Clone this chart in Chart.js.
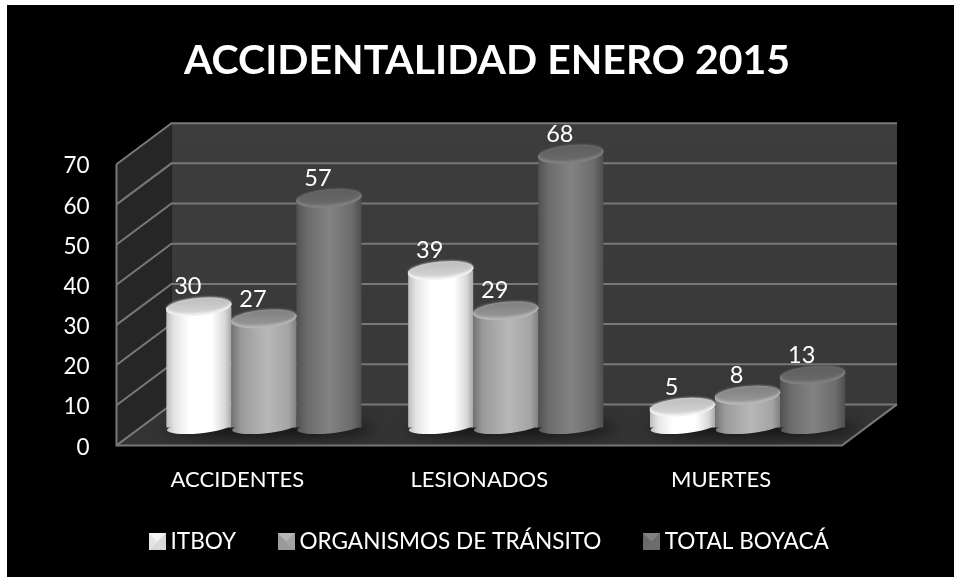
<!DOCTYPE html>
<html><head><meta charset="utf-8">
<style>html,body{margin:0;padding:0;background:#fff}canvas{display:block}#w{width:954px;height:577px;position:relative}</style>
<script src="https://cdn.jsdelivr.net/npm/chart.js@4"></script>
</head><body><div id="w"><canvas id="c" width="954" height="577"></canvas></div>
<script>
const titleText = 'ACCIDENTALIDAD ENERO 2015';
const categories = ['ACCIDENTES', 'LESIONADOS', 'MUERTES'];
const seriesNames = ['ITBOY', 'ORGANISMOS DE TRÁNSITO', 'TOTAL BOYACÁ'];
const itboy = [30, 39, 5];
const organismos = [27, 29, 8];
const totalBoyaca = [57, 68, 13];

const FONT = 'Lato, Carlito, sans-serif';
const DEPTH = {x: 55, y: -41};
const BAR = {x: 26.5, y: -18};
const RY = 9, RY_BASE = 6, TILT = -0.09;
const palettes = [
  {stops: [[0,'#bdbdbd'],[.12,'#e4e4e4'],[.35,'#ffffff'],[.7,'#ffffff'],[.9,'#d8d8d8'],[1,'#a8a8a8']], capTop: '#bdbdbd', capBot: '#d8d8d8', rim: '#f4f4f4', base: '#ffffff'},
  {stops: [[0,'#737373'],[.15,'#9a9a9a'],[.55,'#b8b8b8'],[.88,'#a4a4a4'],[1,'#808080']], capTop: '#808080', capBot: '#9a9a9a', rim: '#b8b8b8', base: '#a6a6a6'},
  {stops: [[0,'#515151'],[.15,'#6a6a6a'],[.5,'#838383'],[.85,'#6c6c6c'],[1,'#4e4e4e']], capTop: '#5e5e5e', capBot: '#6c6c6c', rim: '#828282', base: '#6e6e6e'}
];

function legendIcon(p) {
  const s = 17, c = document.createElement('canvas');
  c.width = c.height = s;
  const g = c.getContext('2d');
  g.fillStyle = p.base; g.fillRect(0,0,s,s);
  const tri = (pts, col) => { g.fillStyle = col; g.beginPath(); pts.forEach((q,i)=> i?g.lineTo(q[0],q[1]):g.moveTo(q[0],q[1])); g.closePath(); g.fill(); };
  tri([[0,0],[s,0],[s/2,s/2]], p.rim);
  tri([[0,s],[s,s],[s/2,s/2]], p.capBot);
  tri([[0,0],[0,s],[s/2,s/2]], p.stops[1][1]);
  tri([[s,0],[s,s],[s/2,s/2]], p.stops[p.stops.length-2][1]);
  return c;
}
const icons = palettes.map(legendIcon);

function barGradient(ctx, x0, x1, p) {
  const g = ctx.createLinearGradient(x0, 0, x1, 0);
  p.stops.forEach(s => g.addColorStop(s[0], s[1]));
  return g;
}

const scene = {
  id: 'scene',
  beforeDraw(chart) {
    const c = chart.ctx;
    c.save();
    c.fillStyle = '#000';
    c.fillRect(7, 5, 947, 572);
    c.restore();
  },
  afterLayout(chart) {
    chart.titleBlock.left = 20; chart.titleBlock.right = 954;
    chart.legend.left = 30; chart.legend.right = 954;
    chart.legend.top -= 14; chart.legend.bottom -= 14;
  },
  beforeDatasetsDraw(chart) {
    const c = chart.ctx, {left, right} = chart.chartArea, y = chart.scales.y, x = chart.scales.x;
    const y0 = y.getPixelForValue(0), yT = y.getPixelForValue(70);
    const d = DEPTH;
    c.save();
    const poly = (pts, fill) => { c.fillStyle = fill; c.beginPath(); pts.forEach((q,i)=> i?c.lineTo(q[0],q[1]):c.moveTo(q[0],q[1])); c.closePath(); c.fill(); };
    const wall = c.createLinearGradient(0, yT+d.y, 0, y0+d.y);
    wall.addColorStop(0,'#3d3d3d'); wall.addColorStop(1,'#383838');
    poly([[left+d.x,yT+d.y],[right+d.x,yT+d.y],[right+d.x,y0+d.y],[left+d.x,y0+d.y]], wall);
    poly([[left,yT],[left+d.x,yT+d.y],[left+d.x,y0+d.y],[left,y0]], '#262626');
    poly([[left,y0],[right,y0],[right+d.x,y0+d.y],[left+d.x,y0+d.y]], '#333333');
    c.strokeStyle = '#787878'; c.lineWidth = 2;
    y.ticks.forEach(t => {
      const p = y.getPixelForValue(t.value);
      c.beginPath(); c.moveTo(left,p); c.lineTo(left+d.x,p+d.y); c.lineTo(right+d.x,p+d.y); c.stroke();
    });
    c.beginPath(); c.moveTo(left,yT); c.lineTo(left,y0); c.lineTo(right,y0); c.lineTo(right+d.x,y0+d.y); c.stroke();
    c.restore();
    // soft shadow under each group
    c.save();
    c.filter = 'blur(7px)';
    c.fillStyle = 'rgba(0,0,0,0.6)';
    categories.forEach((_, i) => {
      const cx = x.getPixelForValue(i) + BAR.x;
      c.beginPath(); c.ellipse(cx + 6, y0 + BAR.y + 1, 104, 9, 0, 0, 7); c.fill();
    });
    c.restore();
    c.save();
    c.translate(BAR.x, BAR.y);
  },
  beforeDatasetDraw(chart, args) {
    const c = chart.ctx, p = palettes[args.index];
    args.meta.data.forEach(el => {
      const x0 = el.x - el.width/2, x1 = el.x + el.width/2;
      const g = barGradient(c, x0, x1, p);
      el.options = Object.assign({}, el.options, {backgroundColor: g});
      c.fillStyle = g;
      c.beginPath(); c.ellipse(el.x, el.base, el.width/2 - 0.5, RY_BASE, TILT, 0, Math.PI*2); c.fill();
    });
  },
  afterDatasetDraw(chart, args) {
    const c = chart.ctx, p = palettes[args.index];
    args.meta.data.forEach(el => {
      const rx = el.width/2 + 0.5;
      c.fillStyle = p.rim;
      c.beginPath(); c.ellipse(el.x, el.y, rx, RY, TILT, 0, Math.PI*2); c.fill();
      const g = c.createLinearGradient(0, el.y-RY, 0, el.y+RY);
      g.addColorStop(0, p.capTop); g.addColorStop(1, p.capBot);
      c.save();
      c.filter = 'blur(0.8px)';
      c.beginPath(); c.ellipse(el.x, el.y-1.6, rx-0.8, RY-1.2, TILT, 0, Math.PI*2);
      c.fillStyle = g; c.fill();
      c.restore();
    });
  },
  afterDatasetsDraw(chart) {
    const c = chart.ctx;
    c.restore();
    c.save();
    c.fillStyle = '#fff';
    c.font = '23.5px ' + FONT;
    c.textAlign = 'center';
    c.textBaseline = 'middle';
    chart.data.datasets.forEach((ds, i) => {
      chart.getDatasetMeta(i).data.forEach((el, j) => {
        c.fillText(String(ds.data[j]), el.x + BAR.x - 11, el.y + BAR.y - 20);
      });
    });
    c.restore();
  }
};

new Chart(document.getElementById('c'), {
  type: 'bar',
  plugins: [scene],
  data: {
    labels: categories,
    datasets: [
      {label: seriesNames[0], data: itboy, backgroundColor: '#ffffff', clip: false},
      {label: seriesNames[1], data: organismos, backgroundColor: '#a6a6a6', clip: false},
      {label: seriesNames[2], data: totalBoyaca, backgroundColor: '#6e6e6e', clip: false}
    ]
  },
  options: {
    responsive: false,
    animation: false,
    layout: {padding: {left: 20, right: 112, top: 0, bottom: 0}},
    datasets: {bar: {categoryPercentage: 0.807, barPercentage: 1, borderWidth: 0}},
    scales: {
      x: {
        grid: {display: false}, border: {display: false},
        ticks: {color: '#fff', font: {family: FONT, size: 22}, padding: 13, maxRotation: 0},
        afterFit(s) { s.height = 51; }
      },
      y: {
        min: 0, max: 70,
        grid: {display: false}, border: {display: false},
        ticks: {color: '#fff', font: {family: FONT, size: 22.5}, stepSize: 10, padding: 19, labelOffset: 2},
        afterFit(s) { s.width = 96.5; }
      }
    },
    plugins: {
      title: {
        display: true, text: titleText, color: '#fff', fullSize: true,
        font: {family: FONT, size: 41, weight: 'bold', lineHeight: 1.2},
        padding: {top: 36, bottom: 79}
      },
      legend: {
        display: true, position: 'bottom', fullSize: true,
        labels: {
          color: '#fff', font: {family: FONT, size: 22.6},
          usePointStyle: true, boxWidth: 16, boxHeight: 16, pointStyleWidth: 4, padding: 48,
          generateLabels: chart => seriesNames.map((n, i) => ({
            text: n, pointStyle: icons[i], fillStyle: palettes[i].base, strokeStyle: palettes[i].base,
            fontColor: '#fff', lineWidth: 0, hidden: false, datasetIndex: i
          }))
        }
      },
      tooltip: {enabled: false}
    }
  }
});
</script></body></html>
